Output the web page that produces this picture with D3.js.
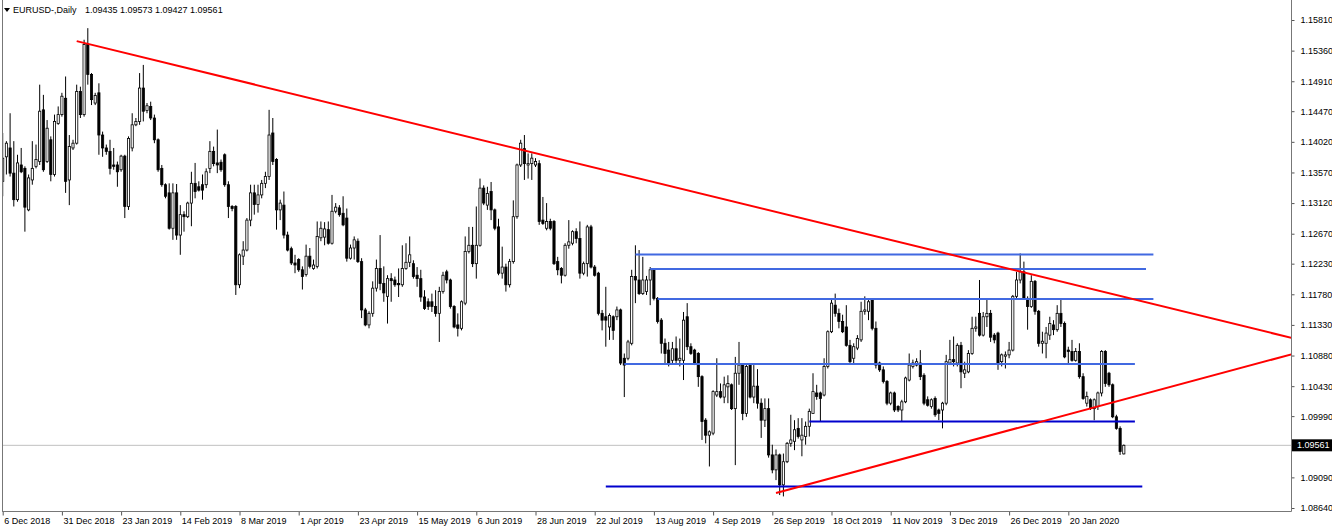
<!DOCTYPE html>
<html><head><meta charset="utf-8">
<script src="https://cdn.jsdelivr.net/npm/d3@7"></script>
<style>
html,body{margin:0;padding:0;background:#fff;}
svg{display:block;}
text{font-family:"Liberation Sans",Arial,sans-serif;}
</style></head><body>
<svg id="c" width="1332" height="530"></svg>
<script>
// ---- data (daily EURUSD candles, bar 0 = 6 Dec 2018, last bar = 10 Feb 2020) ----
const opens=[
1.1344,1.1380,1.1393,1.1356,1.1317,1.1368,1.1363,1.1302,1.1346,1.1366,
1.1373,1.1449,1.1373,1.1405,1.1354,1.1429,1.1442,1.1466,1.1346,1.1393,
1.1400,1.1476,1.1442,1.1545,1.1501,1.1459,1.1474,1.1412,1.1393,1.1388,
1.1368,1.1368,1.1361,1.1381,1.1307,1.1393,1.1427,1.1432,1.1481,1.1448,
1.1454,1.1437,1.1405,1.1363,1.1339,1.1327,1.1275,1.1327,1.1265,1.1295,
1.1292,1.1312,1.1341,1.1336,1.1339,1.1339,1.1363,1.1388,1.1371,1.1372,
1.1383,1.1339,1.1307,1.1307,1.1192,1.1234,1.1243,1.1287,1.1327,1.1310,
1.1324,1.1341,1.1351,1.1415,1.1376,1.1302,1.1309,1.1265,1.1245,1.1224,
1.1229,1.1214,1.1207,1.1234,1.1216,1.1219,1.1261,1.1262,1.1273,1.1253,
1.1300,1.1305,1.1297,1.1290,1.1231,1.1246,1.1256,1.1226,1.1155,1.1133,
1.1150,1.1187,1.1216,1.1194,1.1175,1.1201,1.1199,1.1194,1.1192,1.1216,
1.1225,1.1223,1.1206,1.1201,1.1174,1.1167,1.1167,1.1160,1.1150,1.1182,
1.1211,1.1199,1.1160,1.1133,1.1128,1.1165,1.1241,1.1250,1.1223,1.1250,
1.1334,1.1309,1.1329,1.1302,1.1277,1.1209,1.1218,1.1192,1.1226,1.1292,
1.1368,1.1392,1.1368,1.1370,1.1368,1.1370,1.1287,1.1275,1.1285,1.1285,
1.1226,1.1216,1.1206,1.1250,1.1253,1.1270,1.1260,1.1209,1.1223,1.1277,
1.1218,1.1209,1.1150,1.1145,1.1130,1.1145,1.1145,1.1155,1.1084,1.1084,
1.1106,1.1204,1.1199,1.1179,1.1182,1.1199,1.1214,1.1172,1.1140,1.1106,
1.1096,1.1081,1.1098,1.1081,1.1081,1.1145,1.1101,1.1096,1.1091,1.1057,
1.0993,1.0971,1.0974,1.1030,1.1035,1.1027,1.1042,1.1045,1.1010,1.1062,
1.1074,1.1003,1.1074,1.1027,1.1043,1.1018,1.0993,1.1010,1.0942,1.0920,
1.0942,1.0898,1.0932,1.0959,1.0962,1.0981,1.0964,1.0969,1.0984,1.1003,
1.1033,1.1033,1.1030,1.1072,1.1123,1.1162,1.1150,1.1138,1.1130,1.1103,
1.1084,1.1099,1.1111,1.1153,1.1153,1.1170,1.1128,1.1077,1.1067,1.1050,
1.1018,1.1033,1.1013,1.1008,1.1020,1.1052,1.1072,1.1074,1.1077,1.1059,
1.1023,1.1013,1.1025,1.1008,1.1008,1.1018,1.1077,1.1082,1.1077,1.1103,
1.1062,1.1064,1.1091,1.1128,1.1150,1.1118,1.1145,1.1150,1.1118,1.1121,
1.1079,1.1087,1.1089,1.1096,1.1175,1.1199,1.1211,1.1172,1.1160,1.1197,
1.1153,1.1106,1.1106,1.1118,1.1133,1.1126,1.1150,1.1135,1.1096,1.1094,
1.1081,1.1094,1.1057,1.1018,1.1023,1.1010,1.1013,1.1033,1.1094,1.1062,
1.1045,1.0998,1.0981,1.09435];
const highs=[
1.1415,1.1403,1.1444,1.1403,1.1383,1.1393,1.1366,1.1354,1.1403,1.1398,
1.1486,1.1471,1.1434,1.1410,1.1442,1.1454,1.1474,1.1498,1.1412,1.1405,
1.1486,1.1483,1.1552,1.1569,1.1503,1.1474,1.1488,1.1417,1.1398,1.1405,
1.1393,1.1373,1.1383,1.1383,1.1410,1.1444,1.1437,1.1503,1.1515,1.1459,
1.1461,1.1442,1.1407,1.1368,1.1341,1.1341,1.1341,1.1340,1.1309,1.1300,
1.1314,1.1358,1.1371,1.1344,1.1354,1.1363,1.1403,1.1395,1.1420,1.1376,
1.1385,1.1344,1.1309,1.1309,1.1238,1.1256,1.1290,1.1339,1.1339,1.1339,
1.1346,1.1358,1.1449,1.1437,1.1378,1.1317,1.1329,1.1270,1.1248,1.1236,
1.1231,1.1219,1.1251,1.1246,1.1229,1.1285,1.1285,1.1284,1.1285,1.1324,
1.1312,1.1309,1.1322,1.1304,1.1251,1.1263,1.1260,1.1231,1.1158,1.1153,
1.1197,1.1229,1.1265,1.1219,1.1206,1.1209,1.1204,1.1216,1.1250,1.1253,
1.1263,1.1228,1.1218,1.1214,1.1184,1.1172,1.1179,1.1184,1.1189,1.1211,
1.1214,1.1201,1.1162,1.1150,1.1169,1.1263,1.1277,1.1277,1.1307,1.1348,
1.1338,1.1336,1.1343,1.1304,1.1289,1.1248,1.1223,1.1230,1.1316,1.1370,
1.1405,1.1412,1.1385,1.1385,1.1378,1.1375,1.1321,1.1312,1.1289,1.1287,
1.1233,1.1218,1.1253,1.1287,1.1272,1.1275,1.1285,1.1226,1.1280,1.1280,
1.1221,1.1211,1.1155,1.1189,1.1150,1.1147,1.1160,1.1157,1.1091,1.1111,
1.1214,1.1250,1.1243,1.1233,1.1205,1.1218,1.1216,1.1174,1.1143,1.1113,
1.1108,1.1108,1.1116,1.1113,1.1152,1.1165,1.1106,1.1098,1.1093,1.1059,
1.0996,1.0978,1.1037,1.1084,1.1047,1.1057,1.1059,1.1047,1.1086,1.1108,
1.1077,1.1076,1.1077,1.1074,1.1068,1.1025,1.1025,1.1025,1.0957,1.0950,
1.0944,1.0944,1.0961,1.1001,1.0993,1.0996,1.0996,1.0991,1.1010,1.1062,
1.1045,1.1035,1.1084,1.1125,1.1172,1.1179,1.1157,1.1148,1.1162,1.1111,
1.1106,1.1118,1.1167,1.1175,1.1172,1.1172,1.1138,1.1079,1.1072,1.1052,
1.1035,1.1035,1.1015,1.1023,1.1057,1.1091,1.1082,1.1084,1.1096,1.1062,
1.1028,1.1025,1.1028,1.1010,1.1020,1.1089,1.1111,1.1116,1.1106,1.1108,
1.1079,1.1096,1.1145,1.1145,1.1199,1.1152,1.1172,1.1155,1.1121,1.1123,
1.1091,1.1094,1.1108,1.1177,1.1211,1.1238,1.1226,1.1175,1.1206,1.1199,
1.1155,1.1123,1.1130,1.1145,1.1140,1.1162,1.1170,1.1138,1.1101,1.1111,
1.1099,1.1106,1.1062,1.1035,1.1025,1.1025,1.1035,1.1096,1.1096,1.1064,
1.1047,1.1001,1.0984,1.09573];
const lows=[
1.1322,1.1354,1.1351,1.1307,1.1314,1.1356,1.1270,1.1300,1.1339,1.1363,
1.1368,1.1358,1.1371,1.1344,1.1351,1.1427,1.1439,1.1327,1.1309,1.1390,
1.1398,1.1437,1.1439,1.1486,1.1456,1.1456,1.1383,1.1380,1.1383,1.1354,
1.1361,1.1336,1.1358,1.1290,1.1302,1.1388,1.1425,1.1427,1.1432,1.1444,
1.1434,1.1400,1.1358,1.1336,1.1319,1.1273,1.1258,1.1258,1.1236,1.1270,
1.1290,1.1278,1.1319,1.1329,1.1317,1.1334,1.1356,1.1366,1.1356,1.1358,
1.1336,1.1290,1.1300,1.1177,1.1187,1.1221,1.1241,1.1278,1.1295,1.1298,
1.1319,1.1334,1.1346,1.1368,1.1273,1.1287,1.1260,1.1241,1.1221,1.1209,
1.1211,1.1185,1.1204,1.1216,1.1214,1.1216,1.1256,1.1250,1.1251,1.1251,
1.1297,1.1292,1.1278,1.1226,1.1229,1.1229,1.1224,1.1143,1.1131,1.1128,
1.1145,1.1182,1.1184,1.1167,1.1135,1.1167,1.1189,1.1174,1.1189,1.1214,
1.1218,1.1201,1.1189,1.1167,1.1155,1.1155,1.1152,1.1145,1.1108,1.1179,
1.1194,1.1157,1.1128,1.1116,1.1125,1.1162,1.1238,1.1218,1.1201,1.1248,
1.1309,1.1302,1.1287,1.1272,1.1206,1.1201,1.1182,1.1188,1.1223,1.1289,
1.1365,1.1346,1.1348,1.1346,1.1365,1.1280,1.1280,1.1272,1.1272,1.1221,
1.1206,1.1194,1.1204,1.1245,1.1250,1.1253,1.1201,1.1206,1.1204,1.1216,
1.1204,1.1147,1.1125,1.1101,1.1111,1.1111,1.1140,1.1074,1.1027,1.1081,
1.1103,1.1165,1.1177,1.1177,1.1177,1.1162,1.1169,1.1135,1.1091,1.1077,
1.1072,1.1077,1.1077,1.1072,1.1052,1.1096,1.1089,1.1074,1.1042,1.0964,
1.0959,1.0925,1.0971,1.1027,1.1025,1.1018,1.1018,1.1008,1.0927,1.1045,
1.0993,1.0998,1.1025,1.1018,1.1010,1.0967,1.0983,1.0938,1.0915,1.0905,
1.0883,1.0881,1.0930,1.0954,1.0949,1.0966,1.0940,1.0957,1.0969,1.1003,
1.1023,1.0991,1.1028,1.1069,1.1121,1.1145,1.1128,1.1121,1.1101,1.1077,
1.1077,1.1096,1.1108,1.1148,1.1140,1.1125,1.1069,1.1064,1.1047,1.1015,
1.1015,1.1005,1.1005,1.0991,1.1018,1.1050,1.1069,1.1072,1.1052,1.1015,
1.1013,1.1010,1.0998,1.0993,1.0981,1.1015,1.1074,1.1072,1.1072,1.1040,
1.1055,1.1062,1.1089,1.1123,1.1116,1.1116,1.1130,1.1108,1.1106,1.1067,
1.1072,1.1069,1.1084,1.1094,1.1172,1.1194,1.1170,1.1126,1.1158,1.1148,
1.1101,1.1091,1.1084,1.1111,1.1118,1.1123,1.1130,1.1084,1.1077,1.1079,
1.1079,1.1054,1.1023,1.1013,1.1008,1.0993,1.1008,1.1028,1.1042,1.1042,
1.0996,1.0979,1.0942,1.09427];
const closes=[
1.1378,1.1400,1.1356,1.1317,1.1371,1.1358,1.1306,1.1349,1.1363,1.1376,
1.1447,1.1361,1.1422,1.1354,1.1432,1.1442,1.1469,1.1344,1.1395,1.1400,
1.1476,1.1442,1.1545,1.1501,1.1464,1.1470,1.1412,1.1393,1.1388,1.1363,
1.1366,1.1358,1.1381,1.1307,1.1407,1.1427,1.1432,1.1481,1.1447,1.1455,
1.1437,1.1405,1.1361,1.1339,1.1322,1.1275,1.1327,1.1265,1.1295,1.1292,
1.1312,1.1341,1.1329,1.1331,1.1331,1.1358,1.1388,1.1370,1.1368,1.1361,
1.1339,1.1307,1.1304,1.1192,1.1236,1.1243,1.1287,1.1327,1.1310,1.1324,
1.1341,1.1351,1.1412,1.1373,1.1302,1.1312,1.1265,1.1243,1.1224,1.1221,
1.1214,1.1204,1.1234,1.1219,1.1221,1.1263,1.1275,1.1274,1.1253,1.1300,
1.1306,1.1295,1.1280,1.1231,1.1246,1.1258,1.1226,1.1155,1.1133,1.1150,
1.1187,1.1216,1.1194,1.1180,1.1201,1.1198,1.1192,1.1192,1.1216,1.1225,
1.1236,1.1204,1.1201,1.1174,1.1157,1.1160,1.1160,1.1150,1.1182,1.1206,
1.1199,1.1160,1.1130,1.1128,1.1167,1.1241,1.1250,1.1223,1.1250,1.1334,
1.1312,1.1326,1.1302,1.1275,1.1209,1.1218,1.1192,1.1226,1.1292,1.1368,
1.1400,1.1370,1.1370,1.1378,1.1373,1.1285,1.1282,1.1285,1.1275,1.1223,
1.1214,1.1206,1.1250,1.1255,1.1270,1.1260,1.1209,1.1223,1.1277,1.1218,
1.1206,1.1150,1.1140,1.1140,1.1147,1.1125,1.1155,1.1077,1.1074,1.1108,
1.1204,1.1199,1.1179,1.1199,1.1199,1.1214,1.1172,1.1138,1.1106,1.1091,
1.1077,1.1098,1.1081,1.1084,1.1140,1.1101,1.1091,1.1077,1.1057,1.0991,
1.0971,1.0976,1.1035,1.1035,1.1027,1.1045,1.1047,1.1010,1.1062,1.1074,
1.1003,1.1072,1.1027,1.1043,1.1018,1.0993,1.1010,1.0942,1.0920,1.0942,
1.0898,1.0932,1.0959,1.0964,1.0979,1.0969,1.0971,1.0984,1.1006,1.1035,
1.1028,1.1025,1.1072,1.1123,1.1165,1.1150,1.1138,1.1123,1.1103,1.1079,
1.1101,1.1113,1.1153,1.1155,1.1167,1.1128,1.1074,1.1067,1.1050,1.1018,
1.1033,1.1008,1.1008,1.1020,1.1055,1.1074,1.1077,1.1079,1.1057,1.1018,
1.1015,1.1023,1.1001,1.1003,1.1018,1.1079,1.1082,1.1079,1.1103,1.1064,
1.1067,1.1091,1.1128,1.1130,1.1118,1.1145,1.1150,1.1115,1.1111,1.1077,
1.1089,1.1089,1.1096,1.1175,1.1199,1.1211,1.1172,1.1160,1.1197,1.1153,
1.1106,1.1109,1.1121,1.1135,1.1126,1.1150,1.1135,1.1086,1.1094,1.1081,
1.1094,1.1057,1.1025,1.1028,1.1010,1.1023,1.1033,1.1094,1.1047,1.1045,
1.0998,1.0981,1.0947,1.09561];

const xTickIdx=[0,16,32,48,64,80,96,112,128,144,160,176,192,208,224,240,256,272,288];
const xTickLabels=["6 Dec 2018","31 Dec 2018","23 Jan 2019","14 Feb 2019","8 Mar 2019","1 Apr 2019",
"23 Apr 2019","15 May 2019","6 Jun 2019","28 Jun 2019","22 Jul 2019","13 Aug 2019","4 Sep 2019",
"26 Sep 2019","18 Oct 2019","11 Nov 2019","3 Dec 2019","26 Dec 2019","20 Jan 2020"];
const yTickValues=[1.15810,1.15360,1.14910,1.14470,1.14020,1.13570,1.13120,1.12670,1.12230,
1.11780,1.11330,1.10880,1.10430,1.09990,1.09090,1.08640];
const currentPrice=1.09561;
const symbolTitle="EURUSD-,Daily";
const lastBarText="1.09435 1.09573 1.09427 1.09561";

// trend lines (rays): two anchor points each (bar index, price)
const trendStartIdx=[20,209];
const trendStartPrice=[1.1550,1.0886];
const trendEndIdx=[318.2,304.7];
const trendEndPrice=[1.1154,1.1026];

// horizontal level segments
const levelPrices=[1.12364,1.12151,1.11711,1.10756,1.09911,1.08956];
const levelFromIdx=[171,175,177,168,218,163];
const levelToIdx=[311,309,311,306,306,308];
const levelKind=["light","light","light","light","dark","dark"];

// ---- drawing ----
const svg=d3.select("#c");
const plotL=2, plotR=1291, plotT=0, plotB=511;
const x=d3.scaleLinear().domain([0,303]).range([2.7,1123.8]);
const y=d3.scaleLinear().domain([1.08640,1.15810]).range([508,20]);

svg.append("rect").attr("width",1332).attr("height",530).attr("fill","#fff");
svg.append("defs").append("clipPath").attr("id","plot")
  .append("rect").attr("x",plotL).attr("y",plotT).attr("width",plotR-plotL).attr("height",plotB-plotT);

const g=svg.append("g").attr("clip-path","url(#plot)");

// current price line
g.append("line").attr("x1",plotL).attr("x2",plotR)
  .attr("y1",y(currentPrice)).attr("y2",y(currentPrice))
  .attr("stroke","#c0c0c0").attr("stroke-width",1);

// candles
const idx=d3.range(closes.length);
const cg=g.append("g");
cg.selectAll("line.w").data(idx).join("line")
  .attr("x1",i=>x(i)).attr("x2",i=>x(i))
  .attr("y1",i=>y(highs[i])).attr("y2",i=>y(lows[i]))
  .attr("stroke","#000").attr("stroke-width",1);
cg.selectAll("rect.b").data(idx).join("rect")
  .attr("x",i=>x(i)-1.1).attr("width",2.2)
  .attr("y",i=>y(Math.max(opens[i],closes[i])))
  .attr("height",i=>Math.max(0.6,Math.abs(y(opens[i])-y(closes[i]))))
  .attr("fill",i=>closes[i]>=opens[i]?"#fff":"#000")
  .attr("stroke","#000").attr("stroke-width",0.8);

// level lines
const lvlColor={light:"#4169E1",dark:"#0000CD"};
g.selectAll("line.lvl").data(levelPrices).join("line")
  .attr("x1",(p,i)=>x(levelFromIdx[i])).attr("x2",(p,i)=>x(levelToIdx[i]))
  .attr("y1",p=>y(p)).attr("y2",p=>y(p))
  .attr("stroke",(p,i)=>lvlColor[levelKind[i]]).attr("stroke-width",2);

// trend rays
g.selectAll("line.tr").data(trendStartIdx).join("line")
  .each(function(s,i){
    const i1=s,p1=trendStartPrice[i],i2=trendEndIdx[i],p2=trendEndPrice[i];
    const far=x.invert(plotR+20);
    const pf=p1+(p2-p1)*(far-i1)/(i2-i1);
    d3.select(this).attr("x1",x(i1)).attr("y1",y(p1)).attr("x2",x(far)).attr("y2",y(pf));
  })
  .attr("stroke","#ff0000").attr("stroke-width",2);

// frame lines
svg.append("line").attr("x1",plotL+0.5).attr("x2",plotL+0.5).attr("y1",0).attr("y2",plotB)
  .attr("stroke","#777").attr("stroke-width",1);

// y axis (right)
const yAxis=d3.axisRight(y).tickValues(yTickValues).tickSize(3).tickPadding(6)
  .tickFormat(d=>d.toFixed(5));
const ya=svg.append("g").attr("transform",`translate(${plotR+0.5},0)`).call(yAxis);
ya.select(".domain").remove();
ya.selectAll(".tick line").attr("stroke","#555");
ya.selectAll(".tick text").attr("fill","#000").style("font-size","9px")
  .style("font-family","'Liberation Sans',Arial,sans-serif");
svg.append("line").attr("x1",plotR+0.5).attr("x2",plotR+0.5).attr("y1",0).attr("y2",plotB+0.5)
  .attr("stroke","#777").attr("stroke-width",1);

// current price label
const cp=svg.append("g").attr("transform",`translate(${plotR+1},${y(currentPrice)})`);
cp.append("rect").attr("x",0).attr("y",-6).attr("width",41).attr("height",12).attr("fill","#000");
cp.append("text").attr("x",5).attr("y",0).attr("dy","0.35em").attr("fill","#fff")
  .style("font-size","9px").text(currentPrice.toFixed(5));

// x axis (bottom)
const xAxis=d3.axisBottom(x).tickValues(xTickIdx).tickSize(4).tickPadding(2)
  .tickFormat((d,i)=>xTickLabels[i]);
const xa=svg.append("g").attr("transform",`translate(0,${plotB+0.5})`).call(xAxis);
xa.select(".domain").remove();
xa.selectAll(".tick line").attr("stroke","#555");
xa.selectAll(".tick text").attr("text-anchor","start").attr("x",1).attr("fill","#000")
  .style("font-size","9px").style("font-family","'Liberation Sans',Arial,sans-serif");
svg.append("line").attr("x1",plotL).attr("x2",plotR+0.5).attr("y1",plotB+0.5).attr("y2",plotB+0.5)
  .attr("stroke","#777").attr("stroke-width",1);

// header
svg.append("path").attr("d","M4,8 L10,8 L7,12 Z").attr("fill","#000");
svg.append("text").attr("x",13).attr("y",12.5).style("font-size","9px").attr("fill","#000").text(symbolTitle);
svg.append("text").attr("x",85).attr("y",12.5).style("font-size","9px").attr("fill","#000").text(lastBarText);
</script>
</body></html>
